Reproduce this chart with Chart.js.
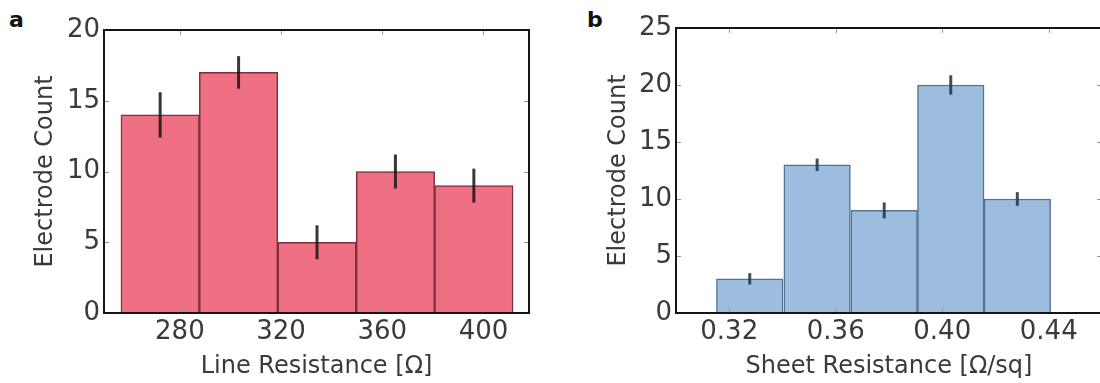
<!DOCTYPE html>
<html>
<head>
<meta charset="utf-8">
<script src="https://cdn.jsdelivr.net/npm/chart.js@4"></script>
<style>
  html, body { margin: 0; padding: 0; background: #fff; width: 1100px; height: 383px; overflow: hidden; }
  .panel { position: absolute; top: 0; height: 383px; }
  #wrapA { left: 0; width: 545px; }
  #wrapB { left: 560px; width: 560px; }
  .tag { position: absolute; font: bold 22px 'DejaVu Sans'; line-height: 22px; color: #111; }
</style>
</head>
<body>
<div class="tag" style="left:9px;top:9px">a</div>
<div class="tag" style="left:587px;top:9px">b</div>
<div class="panel" id="wrapA"><canvas id="chartA"></canvas></div>
<div class="panel" id="wrapB"><canvas id="chartB"></canvas></div>
<script>
// Panel a: line resistance histogram
const lineBinCenters = [272.2, 303.2, 334.2, 365.2, 396.2];
const lineCounts = [14, 17, 5, 10, 9];
const lineErrors = [1.6, 1.15, 1.2, 1.2, 1.2];
const lineTicks = [280, 320, 360, 400];
const lineCountTicks = [0, 5, 10, 15, 20];

// Panel b: sheet resistance histogram
const sheetBinCenters = [0.3277, 0.3530, 0.3782, 0.4032, 0.4282];
const sheetCounts = [3, 13, 9, 20, 10];
const sheetErrors = [0.5, 0.55, 0.7, 0.85, 0.6];
const sheetTicks = [0.32, 0.36, 0.40, 0.44];
const sheetCountTicks = [0, 5, 10, 15, 20, 25];

const FONT = 'DejaVu Sans';
const TEXT = '#3a3a3a';

// error bars drawn from each bar's own position and the y scale
const errorBars = {
  id: 'errorBars',
  afterDatasetsDraw(chart, args, opts) {
    const { ctx, scales: { y } } = chart;
    const meta = chart.getDatasetMeta(0);
    const ds = chart.data.datasets[0];
    ctx.save();
    ctx.strokeStyle = opts.color;
    ctx.lineWidth = opts.width;
    meta.data.forEach((bar, i) => {
      const v = ds.data[i].y, e = opts.errors[i];
      ctx.beginPath();
      ctx.moveTo(bar.x, y.getPixelForValue(v + e));
      ctx.lineTo(bar.x, y.getPixelForValue(v - e));
      ctx.stroke();
    });
    ctx.restore();
  }
};

// matplotlib-like box frame with small inward ticks
const frameBox = {
  id: 'frameBox',
  afterDraw(chart) {
    const { ctx, chartArea: a, scales: { x, y } } = chart;
    ctx.save();
    ctx.strokeStyle = '#999';
    ctx.lineWidth = 1;
    x.ticks.forEach(t => {
      const px = Math.round(x.getPixelForValue(t.value)) + 0.5;
      ctx.beginPath();
      ctx.moveTo(px, a.top); ctx.lineTo(px, a.top + 5);
      ctx.moveTo(px, a.bottom); ctx.lineTo(px, a.bottom - 5);
      ctx.stroke();
    });
    y.ticks.forEach(t => {
      const py = Math.round(y.getPixelForValue(t.value)) + 0.5;
      ctx.beginPath();
      ctx.moveTo(a.left, py); ctx.lineTo(a.left + 5, py);
      ctx.moveTo(a.right, py); ctx.lineTo(a.right - 5, py);
      ctx.stroke();
    });
    ctx.strokeStyle = '#151515';
    ctx.lineWidth = 2;
    ctx.strokeRect(a.left, a.top, a.right - a.left, a.bottom - a.top);
    ctx.restore();
  }
};

function histChart(id, cfg) {
  return new Chart(document.getElementById(id), {
    type: 'bar',
    data: {
      datasets: [{
        data: cfg.centers.map((c, i) => ({ x: c, y: cfg.counts[i] })),
        backgroundColor: cfg.fill,
        borderColor: cfg.edge,
        borderWidth: 1.5,
        barPercentage: 1,
        categoryPercentage: 1
      }]
    },
    options: {
      responsive: true,
      maintainAspectRatio: false,
      animation: false,
      layout: { padding: { top: cfg.padTop, right: cfg.padRight, left: 0, bottom: 0 } },
      plugins: {
        legend: { display: false },
        tooltip: { enabled: false },
        errorBars: { errors: cfg.errors, color: cfg.errColor, width: 3 }
      },
      scales: {
        x: {
          type: 'linear',
          offset: false,
          min: cfg.xMin,
          max: cfg.xMax,
          grid: { display: false, drawTicks: false },
          border: { display: false },
          afterBuildTicks: s => { s.ticks = cfg.xTicks.map(v => ({ value: v })); },
          afterFit: s => { s.height = 70; },
          ticks: {
            color: TEXT,
            padding: 4,
            maxRotation: 0,
            font: { family: FONT, size: 26 },
            callback: cfg.xFormat
          },
          title: {
            display: true,
            text: cfg.xTitle,
            color: TEXT,
            font: { family: FONT, size: 24 },
            padding: { top: 0, bottom: 2 }
          }
        },
        y: {
          min: 0,
          max: cfg.yMax,
          grid: { display: false, drawTicks: false },
          border: { display: false },
          afterBuildTicks: s => { s.ticks = cfg.yTicks.map(v => ({ value: v })); },
          afterFit: s => { s.width = cfg.yWidth; },
          ticks: {
            color: TEXT,
            padding: 4,
            font: { family: FONT, size: 26 }
          },
          title: {
            display: true,
            text: 'Electrode Count',
            color: TEXT,
            font: { family: FONT, size: 24 },
            padding: { top: cfg.yTitlePad, bottom: 0 }
          }
        }
      }
    },
    plugins: [errorBars, frameBox]
  });
}

histChart('chartA', {
  centers: lineBinCenters, counts: lineCounts, errors: lineErrors,
  xTicks: lineTicks, yTicks: lineCountTicks,
  xMin: 250, xMax: 418, yMax: 20,
  xFormat: v => String(v),
  xTitle: 'Line Resistance [Ω]',
  fill: '#EF6F83', edge: '#7d2f3b', errColor: 'rgba(25,20,20,0.85)',
  padTop: 30, padRight: 16, yWidth: 104, yTitlePad: 31
});

histChart('chartB', {
  centers: sheetBinCenters, counts: sheetCounts, errors: sheetErrors,
  xTicks: sheetTicks, yTicks: sheetCountTicks,
  xMin: 0.30, xMax: 0.46, yMax: 25,
  xFormat: v => v.toFixed(2),
  xTitle: 'Sheet Resistance [Ω/sq]',
  fill: '#9DBDE0', edge: '#56728f', errColor: 'rgba(35,60,85,0.9)',
  padTop: 28, padRight: 18, yWidth: 116, yTitlePad: 44
});
</script>
</body>
</html>
